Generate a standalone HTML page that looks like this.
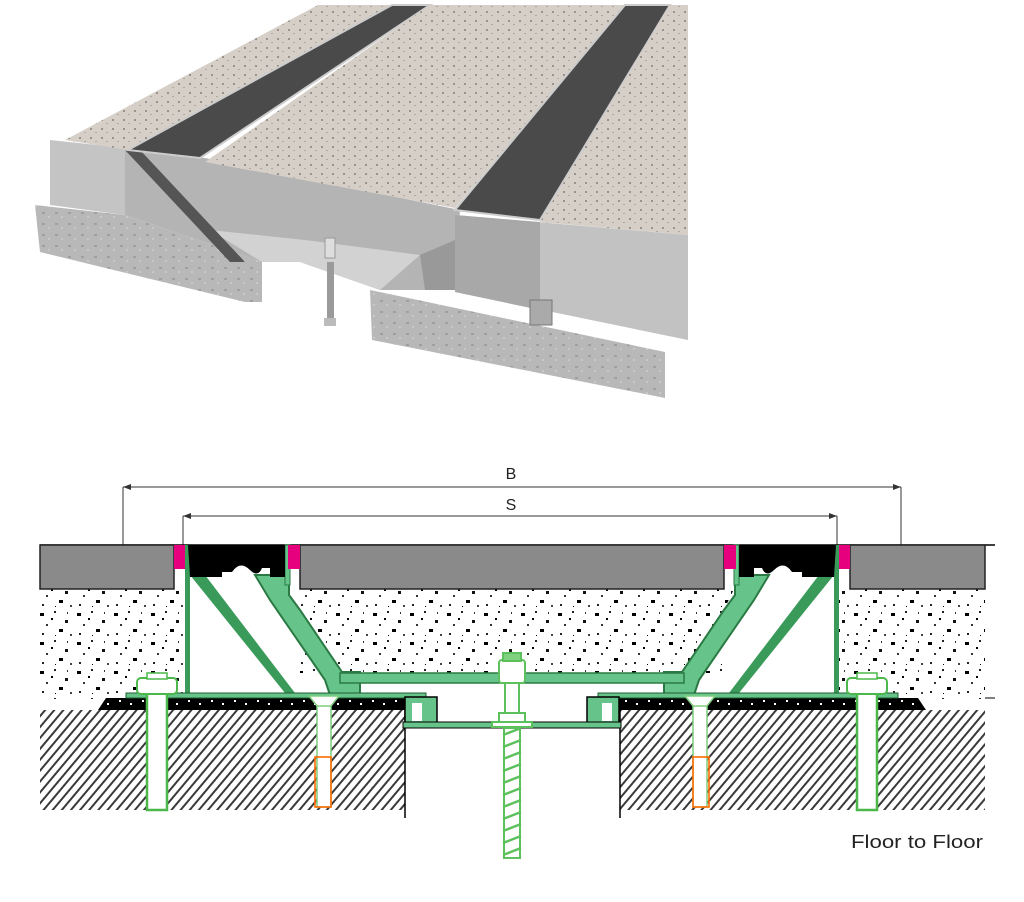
<!DOCTYPE html>
<html><head><meta charset="utf-8"><style>
html,body{margin:0;padding:0;background:#fff}
svg{display:block}
</style></head><body>
<svg width="1024" height="902" viewBox="0 0 1024 902" xmlns="http://www.w3.org/2000/svg">
<defs>
<pattern id="sp" width="37" height="29" patternUnits="userSpaceOnUse">
<rect x="3" y="4" width="4" height="3" fill="#000"/><rect x="17" y="2" width="2" height="2" fill="#222"/>
<rect x="28" y="11" width="3" height="3" fill="#111"/><rect x="9" y="15" width="2" height="2" fill="#333"/>
<rect x="22" y="20" width="4" height="3" fill="#000"/><rect x="33" y="25" width="2" height="2" fill="#444"/>
<rect x="5" y="24" width="2" height="2" fill="#222"/><rect x="14" y="9" width="2" height="2" fill="#000"/>
<rect x="30" y="3" width="1" height="2" fill="#333"/><rect x="18" y="26" width="1" height="1" fill="#000"/>
</pattern>
<pattern id="hat" width="7" height="7" patternUnits="userSpaceOnUse" patternTransform="rotate(40)">
<rect width="7" height="7" fill="#fff"/><rect width="2" height="7" fill="#3a3a3a"/>
</pattern>
<pattern id="mort" width="23" height="12" patternUnits="userSpaceOnUse">
<rect width="23" height="12" fill="#000"/><rect x="4" y="4" width="2" height="2" fill="#fff"/><rect x="15" y="7" width="2" height="2" fill="#fff"/>
</pattern>
<pattern id="conc" width="11" height="9" patternUnits="userSpaceOnUse">
<rect width="11" height="9" fill="#d6cfc7"/><rect x="2" y="2" width="2" height="2" fill="#9a938c"/><rect x="7" y="6" width="2" height="1" fill="#b0a8a0"/>
</pattern>
<pattern id="gconc" width="13" height="11" patternUnits="userSpaceOnUse">
<rect width="13" height="11" fill="#b8b8b8"/><rect x="3" y="3" width="3" height="2" fill="#9f9f9f"/><rect x="9" y="7" width="2" height="2" fill="#c8c8c8"/>
</pattern>
<g id="half">
<rect x="185" y="545" width="5" height="150" fill="#3a9a5a"/>
<polygon points="190,575 205,575 295,693 285,693" fill="#3a9a5a"/>
<polygon points="255,575 289,575 289,595 300,610 342,672 360,672 360,695 330,695 325,680 270,600" fill="#66c48a" stroke="#2b7a44" stroke-width="2"/>
<rect x="285" y="545" width="5" height="40" fill="#66c48a" stroke="#2b7a44" stroke-width="1"/>
<rect x="126" y="693" width="300" height="5" fill="#66c48a" stroke="#1d5c32" stroke-width="1"/>
<rect x="340" y="673" width="172" height="10" fill="#66c48a" stroke="#2b7a44" stroke-width="1.5"/>
<path d="M188,545 H285 V577 H270 V568 H262 Q258,578 250,570 Q240,560 232,572 H222 V577 H190 Z" fill="#000"/>
<rect x="405" y="697" width="32" height="26" fill="#66c48a" stroke="#000" stroke-width="1.5"/>
<rect x="412" y="703" width="10" height="18" fill="#fff"/>
<rect x="403" y="722" width="109" height="6" fill="#66c48a" stroke="#000" stroke-width="1"/>
<rect x="147" y="693" width="20" height="117" fill="#fff" stroke="#4cb84c" stroke-width="2.5"/>
<rect x="137" y="678" width="40" height="16" rx="4" fill="#fff" stroke="#4cb84c" stroke-width="2"/>
<rect x="147" y="673" width="20" height="6" fill="#fff" stroke="#4cb84c" stroke-width="1.5"/>
<rect x="317" y="700" width="14" height="107" fill="#fff" stroke="#7fce7f" stroke-width="1.5"/>
<path d="M309,696 H339 L331,706 H317 Z" fill="#fff" stroke="#7fce7f" stroke-width="1.5"/>
<rect x="315" y="757" width="16" height="50" fill="none" stroke="#ff6a00" stroke-width="1.6"/>
<rect x="174" y="545" width="11" height="24" fill="#e6007e"/>
<rect x="288" y="545" width="12" height="24" fill="#e6007e"/>
</g>
</defs>

<!-- ===== TOP 3D ILLUSTRATION ===== -->
<polygon points="35,205 125,215 262,262 262,302 245,302 40,252" fill="url(#gconc)"/>
<polygon points="50,140 125,148 125,215 50,205" fill="#c4c4c4"/>
<polygon points="125,148 205,158 460,210 455,290 380,290 300,262 262,262 125,215" fill="#b4b4b4"/>
<polygon points="210,230 305,240 420,255 380,290 300,262 262,262" fill="#d2d2d2"/>
<polygon points="455,215 688,235 688,340 455,292" fill="#c2c2c2"/>
<polygon points="370,290 665,352 665,398 372,340" fill="url(#gconc)"/>
<polygon points="455,215 540,222 540,310 455,292" fill="#a8a8a8"/>
<polygon points="125,150 140,150 245,262 230,262" fill="#555"/>
<polygon points="420,255 455,240 455,290 425,290" fill="#999"/>
<rect x="327" y="262" width="7" height="62" fill="#9a9a9a"/>
<rect x="324" y="318" width="12" height="8" fill="#bbb"/>
<rect x="325" y="238" width="10" height="20" fill="#ddd" stroke="#999"/>
<polygon points="318,5 392,5 128,150 65,140" fill="url(#conc)"/>
<polygon points="392,5 430,5 200,158 128,150" fill="#4a4a4a" stroke="#ccc" stroke-width="2"/>
<polygon points="430,5 625,5 455,208 205,162" fill="url(#conc)"/>
<polygon points="625,5 670,5 540,220 455,210" fill="#4a4a4a" stroke="#ccc" stroke-width="2"/>
<polygon points="670,5 688,5 688,235 540,222" fill="url(#conc)"/>
<rect x="530" y="300" width="22" height="25" fill="#aaa" stroke="#777"/>

<!-- ===== BOTTOM SECTION ===== -->
<g stroke="#333" stroke-width="1" fill="none">
<line x1="123" y1="487" x2="901" y2="487"/><line x1="123" y1="487" x2="123" y2="545"/><line x1="901" y1="487" x2="901" y2="545"/>
<line x1="183" y1="516" x2="837" y2="516"/><line x1="183" y1="516" x2="183" y2="545"/><line x1="837" y1="516" x2="837" y2="545"/>
</g>
<path d="M123,487 l8,-3 v6 z M901,487 l-8,-3 v6 z M183,516 l8,-3 v6 z M837,516 l-8,-3 v6 z" fill="#333"/>
<text x="511" y="479" font-family="Liberation Sans, sans-serif" font-size="16" text-anchor="middle" fill="#222">B</text>
<text x="511" y="510" font-family="Liberation Sans, sans-serif" font-size="16" text-anchor="middle" fill="#222">S</text>

<rect x="40" y="589" width="146" height="110" fill="url(#sp)"/>
<rect x="300" y="589" width="424" height="84" fill="url(#sp)"/>
<rect x="838" y="589" width="147" height="110" fill="url(#sp)"/>
<polygon points="290,589 300,589 345,672 330,672" fill="url(#sp)"/>
<polygon points="734,589 724,589 679,672 694,672" fill="url(#sp)"/>
<rect x="40" y="710" width="365" height="100" fill="url(#hat)"/>
<rect x="620" y="710" width="365" height="100" fill="url(#hat)"/>
<polygon points="106,698 405,698 405,710 98,710" fill="url(#mort)"/>
<polygon points="619,698 918,698 926,710 619,710" fill="url(#mort)"/>
<line x1="405" y1="710" x2="405" y2="818" stroke="#000" stroke-width="1.5"/>
<line x1="620" y1="710" x2="620" y2="818" stroke="#000" stroke-width="1.5"/>
<line x1="985" y1="698" x2="995" y2="698" stroke="#000"/>
<line x1="40" y1="545" x2="995" y2="545" stroke="#000" stroke-width="1.5"/>
<rect x="40" y="545" width="134" height="44" fill="#8a8a8a" stroke="#222" stroke-width="1.5"/>
<rect x="300" y="545" width="424" height="44" fill="#8a8a8a" stroke="#222" stroke-width="1.5"/>
<rect x="850" y="545" width="135" height="44" fill="#8a8a8a" stroke="#222" stroke-width="1.5"/>

<use href="#half"/>
<use href="#half" transform="translate(1024,0) scale(-1,1)"/>

<g fill="#fff" stroke="#5cc05c" stroke-width="2">
<rect x="505" y="683" width="14" height="30"/>
<rect x="499" y="660" width="26" height="23" rx="3"/>
<rect x="503" y="653" width="18" height="8" fill="#7fd07f"/>
<rect x="499" y="713" width="26" height="10"/>
<rect x="492" y="722" width="40" height="5"/>
<rect x="504" y="728" width="16" height="130"/>
</g>
<g stroke="#5cc05c" stroke-width="2.5" fill="none">
<path d="M503,735 L521,728 M503,747 L521,740 M503,759 L521,752 M503,771 L521,764 M503,783 L521,776 M503,795 L521,788 M503,807 L521,800 M503,819 L521,812 M503,831 L521,824 M503,843 L521,836 M503,855 L521,848"/>
</g>

<text x="851" y="848" font-family="Liberation Sans, sans-serif" font-size="18" fill="#222" textLength="132" lengthAdjust="spacingAndGlyphs">Floor to Floor</text>
</svg>
</body></html>
